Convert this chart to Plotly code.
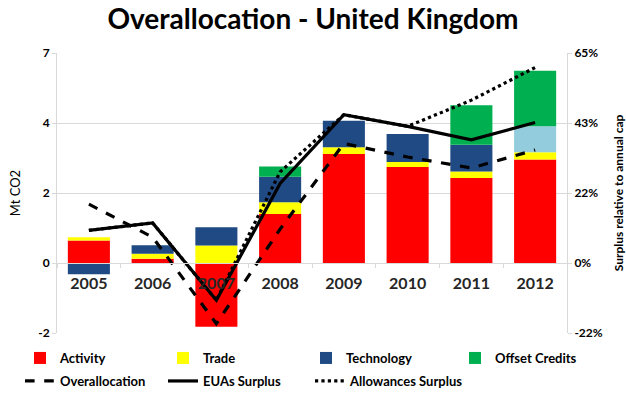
import plotly.graph_objects as go

# Categories and series (Mt CO2 for bars, % of annual cap for lines)
years = ["2005", "2006", "2007", "2008", "2009", "2010", "2011", "2012"]
activity = [0.70, 0.13, -1.97, 1.52, 3.37, 2.97, 2.63, 3.20]
trade = [0.10, 0.16, 0.54, 0.36, 0.21, 0.16, 0.20, 0.23]
technology = [-0.35, 0.26, 0.57, 0.79, 0.82, 0.86, 0.83, 0.0]
technology_est = [0, 0, 0, 0, 0, 0, 0, 0.80]
offset_credits = [0, 0, 0, 0.32, 0, 0, 1.22, 1.72]

overallocation = [18.2, 8.0, -18.8, 10.5, 37.0, 32.8, 29.4, 35.0]
euas_surplus = [10.1, 12.4, -11.5, 24.6, 45.9, 42.3, 38.1, 43.5]
allowances_surplus = [10.1, 12.4, -11.5, 28.2, 45.9, 42.3, 50.4, 60.5]

# Axis scales: both axes share 4 equal steps between min and max
left_step = 6.5 / 3
left_ticks = [-left_step, 0, left_step, 2 * left_step, 3 * left_step]
left_labels = ["-2", "0", "2", "4", "7"]
right_step = 65 / 3
right_ticks = [-right_step, 0, right_step, 2 * right_step, 3 * right_step]
right_labels = ["-22%", "0%", "22%", "43%", "65%"]

FONT = "Lato"
GRID = "#D9D9D9"
W, H = 626, 395
COL = 145  # legend column pitch in px
LEG_X0 = 20

fig = go.Figure()

bar_series = [
    ("Activity", activity, "#FF0000", True, "legend"),
    ("Trade", trade, "#FFFF00", True, "legend"),
    ("Technology", technology, "#1F4A84", True, "legend"),
    ("Technology (projected)", technology_est, "#93CDDD", False, "legend"),
    ("Offset Credits", offset_credits, "#00B050", True, "legend3"),
]
for name, vals, color, show, leg in bar_series:
    fig.add_trace(go.Bar(
        x=years, y=vals, name=name, marker=dict(color=color, line=dict(width=0)),
        showlegend=show, legend=leg, yaxis="y",
    ))

line_series = [
    ("Overallocation", overallocation, "dash", "legend2"),
    ("EUAs Surplus", euas_surplus, "solid", "legend2"),
    ("Allowances Surplus", allowances_surplus, "dot", "legend4"),
]
for name, vals, dash, leg in line_series:
    fig.add_trace(go.Scatter(
        x=years, y=vals, name=name, mode="lines",
        line=dict(color="black", width=3.2, dash=dash),
        yaxis="y2", legend=leg,
    ))

legend_base = dict(
    orientation="h", xref="container", yref="container",
    xanchor="left", yanchor="middle",
    font=dict(family=FONT, size=13, color="black", weight="bold"),
    bgcolor="rgba(0,0,0,0)", itemclick=False, itemdoubleclick=False,
    traceorder="normal", tracegroupgap=0,
)
legend_cols = dict(legend_base, entrywidth=COL - 47, entrywidthmode="pixels")
row1_y = 1 - 358 / H
row2_y = 1 - 381 / H

fig.update_layout(
    width=W, height=H,
    margin=dict(l=57, r=59, t=53, b=62, autoexpand=False),
    paper_bgcolor="white", plot_bgcolor="white",
    barmode="relative", bargap=0.34,
    font=dict(family=FONT, color="black"),
    showlegend=True,
    legend=dict(x=LEG_X0 / W, y=row1_y, **legend_cols),
    legend3=dict(x=(LEG_X0 + 3 * COL) / W, y=row1_y, **legend_base),
    legend2=dict(x=LEG_X0 / W, y=row2_y, **legend_cols),
    legend4=dict(x=(LEG_X0 + 2 * COL) / W, y=row2_y, **legend_base),
    title=dict(
        text="<b>Overallocation - United Kingdom</b>", xref="container", yref="container",
        x=0.5, y=1 - 19 / H, xanchor="center", yanchor="middle",
        font=dict(family=FONT, size=28, color="black"),
    ),
    xaxis=dict(
        anchor="free", position=0.25, showline=True, linecolor=GRID,
        ticks="outside", ticklen=4, tickcolor=GRID, tickson="boundaries",
        ticklabelstandoff=6,
        tickfont=dict(family=FONT, size=16, color="#262626", weight="bold"),
        showgrid=False, fixedrange=True,
    ),
    yaxis=dict(
        range=[-left_step, 3 * left_step], tickvals=left_ticks, ticktext=left_labels,
        showgrid=True, gridcolor=GRID, gridwidth=1, zeroline=False,
        showline=True, linecolor=GRID, ticks="outside", ticklen=4, tickcolor=GRID,
        tickfont=dict(family=FONT, size=12, weight="bold"),
        title=dict(text="Mt CO2", font=dict(family=FONT, size=13), standoff=14),
    ),
    yaxis2=dict(
        range=[-right_step, 3 * right_step], tickvals=right_ticks, ticktext=right_labels,
        overlaying="y", side="right", showgrid=False, zeroline=False,
        showline=True, linecolor=GRID, ticks="outside", ticklen=4, tickcolor=GRID,
        tickfont=dict(family=FONT, size=12, weight="bold"),
        title=dict(text="Surplus relative to annual cap",
                   font=dict(family=FONT, size=12, weight="bold"), standoff=16),
    ),
)

fig.write_html("out.html")
